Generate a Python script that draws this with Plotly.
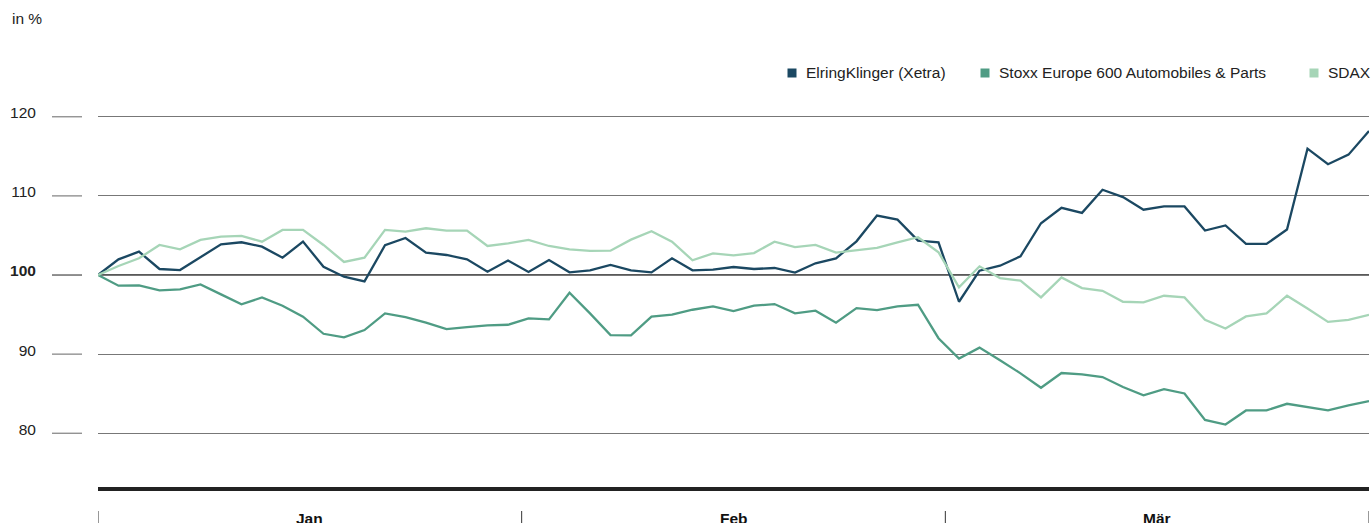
import plotly.graph_objects as go

# ---- data ----
months = ["Jan", "Feb", "Mär"]
n_days = 63
day_index = list(range(n_days))

series_names = ["ElringKlinger (Xetra)", "Stoxx Europe 600 Automobiles & Parts", "SDAX"]

elring = [100, 101.98, 102.95, 100.76, 100.63, 102.24, 103.88, 104.14, 103.59, 102.19,
          104.22, 101.05, 99.79, 99.2, 103.76, 104.68, 102.83, 102.53, 101.98, 100.42,
          101.84, 100.38, 101.9, 100.34, 100.59, 101.27, 100.59, 100.34, 102.11, 100.59,
          100.68, 101.01, 100.76, 100.89, 100.3, 101.48, 102.11, 104.26, 107.51, 107.0,
          104.36, 104.14, 96.62, 100.55, 101.18, 102.37, 106.55, 108.5, 107.86, 110.78,
          109.85, 108.25, 108.67, 108.67, 105.62, 106.26, 103.93, 103.93, 105.75, 115.98,
          114.0, 115.22, 118.22]

stoxx = [100, 98.65, 98.69, 98.06, 98.19, 98.82, 97.55, 96.29, 97.17, 96.12,
         94.73, 92.57, 92.11, 93.04, 95.15, 94.68, 93.97, 93.16, 93.42, 93.63,
         93.71, 94.51, 94.39, 97.76, 95.15, 92.41, 92.36, 94.73, 94.98, 95.61,
         96.03, 95.44, 96.12, 96.33, 95.15, 95.49, 93.97, 95.82, 95.57, 96.03,
         96.24, 92.01, 89.43, 90.82, 89.22, 87.57, 85.75, 87.61, 87.44, 87.1,
         85.84, 84.78, 85.58, 85.03, 81.69, 81.1, 82.88, 82.88, 83.72, 83.3,
         82.88, 83.51, 84.06]

sdax = [100, 101.14, 102.11, 103.8, 103.25, 104.43, 104.85, 104.94, 104.22, 105.7,
        105.7, 103.8, 101.65, 102.19, 105.7, 105.49, 105.91, 105.61, 105.61, 103.67,
        104.0, 104.43, 103.67, 103.25, 103.04, 103.08, 104.47, 105.53, 104.22, 101.86,
        102.74, 102.49, 102.78, 104.22, 103.54, 103.8, 102.83, 103.08, 103.42, 104.14,
        104.78, 102.88, 98.44, 101.1, 99.62, 99.28, 97.17, 99.7, 98.35, 98.01,
        96.62, 96.53, 97.38, 97.17, 94.33, 93.23, 94.76, 95.14, 97.38, 95.77,
        94.08, 94.33, 94.97]

y_ticks = [80, 90, 100, 110, 120]
y_tick_text = ["80", "90", "<b>100</b>", "110", "120"]

colors = ["#1b4862", "#4f9c84", "#a6d5b7"]
FONT = "Liberation Sans, Arial, sans-serif"
FS = 15.5

W, H = 1371, 523
ML, MR, MT, MB = 98, 2, 101, 36
plot_w = W - ML - MR
plot_h = H - MT - MB


def px_x(p):
    return (p - ML) / plot_w


def px_y(p):
    return (H - MB - p) / plot_h


fig = go.Figure()
for name, vals, col in zip(series_names, [elring, stoxx, sdax], colors):
    fig.add_trace(go.Scatter(x=day_index, y=vals, mode="lines", name=name,
                             line=dict(color=col, width=2.3), showlegend=False,
                             hoverinfo="skip"))

shapes = []
annotations = []

# left tick stubs
for v in y_ticks:
    shapes.append(dict(type="line", xref="paper", yref="y",
                       x0=px_x(52), x1=px_x(82), y0=v, y1=v,
                       line=dict(color="#222" if v == 100 else "#666", width=1)))
# emphasised 100 line
shapes.append(dict(type="line", xref="paper", yref="y", x0=0, x1=1, y0=100, y1=100,
                   line=dict(color="#222", width=1.3), layer="below"))
# month separators and labels
n_m = len(months)
for k in range(n_m + 1):
    xv = (n_days - 1) * k / n_m
    shapes.append(dict(type="line", xref="x", yref="paper", x0=xv, x1=xv,
                       y0=px_y(511), y1=px_y(523),
                       line=dict(color="#333", width=1)))
for k, m in enumerate(months):
    xv = (n_days - 1) * (k + 0.5) / n_m
    annotations.append(dict(x=xv, xref="x", y=px_y(508), yref="paper",
                            text=f"<b>{m}</b>", showarrow=False,
                            font=dict(family=FONT, size=FS, color="#111"),
                            xanchor="center", yanchor="top"))

# unit label
annotations.append(dict(x=px_x(10), xref="paper", y=px_y(19), yref="paper",
                        text="in %", showarrow=False,
                        font=dict(family=FONT, size=FS, color="#222"),
                        xanchor="left", yanchor="middle"))

# legend (square + label), laid out right-aligned like the reference
legend_square_x = [792, 985, 1314]
legend_y = 73
for name, col, sx in zip(series_names, colors, legend_square_x):
    shapes.append(dict(type="rect", xref="paper", yref="paper",
                       x0=px_x(sx - 4.5), x1=px_x(sx + 4.5),
                       y0=px_y(legend_y + 4.5), y1=px_y(legend_y - 4.5),
                       fillcolor=col, line=dict(width=0)))
    annotations.append(dict(x=px_x(sx + 12), xref="paper", y=px_y(legend_y), yref="paper",
                            text=name, showarrow=False,
                            font=dict(family=FONT, size=FS, color="#222"),
                            xanchor="left", yanchor="middle"))

fig.update_layout(
    width=W, height=H,
    margin=dict(l=ML, r=MR, t=MT, b=MB),
    paper_bgcolor="white", plot_bgcolor="white",
    font=dict(family=FONT, size=FS, color="#222"),
    shapes=shapes, annotations=annotations,
    showlegend=False,
    xaxis=dict(range=[0, n_days - 1], showgrid=False, zeroline=False,
               showticklabels=False, ticks="", showline=True,
               linecolor="#222", linewidth=4, fixedrange=True),
    yaxis=dict(range=[73.2, 122.0], tickvals=y_ticks, ticktext=y_tick_text,
               showgrid=True, gridcolor="#777", gridwidth=1, zeroline=False,
               ticks="outside", ticklen=58, tickcolor="rgba(0,0,0,0)",
               ticklabelshift=-4,
               tickfont=dict(family=FONT, size=FS, color="#222"),
               showline=False, fixedrange=True),
)

fig.write_html("out.html", config={"displayModeBar": False},
               post_script="document.body.style.margin='0';document.body.style.overflow='hidden';")
